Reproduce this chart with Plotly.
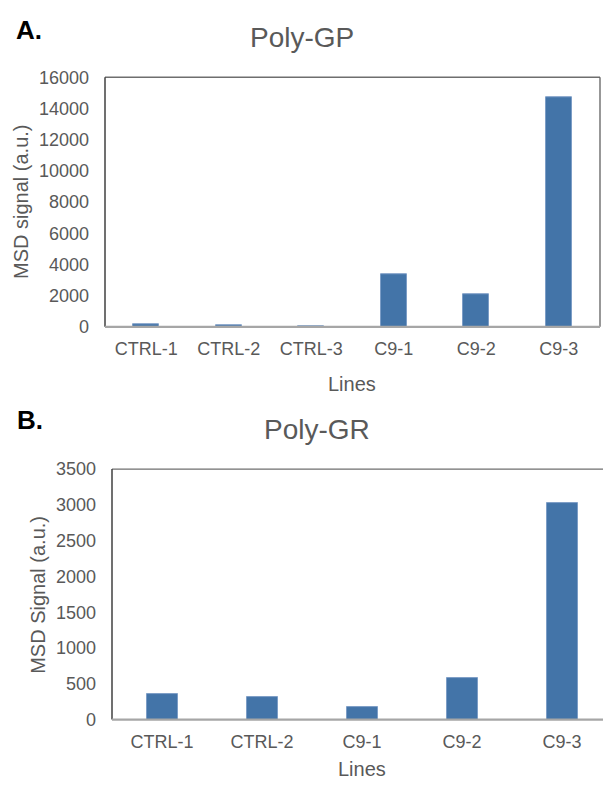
import plotly.graph_objects as go

# ---- data ----
gp_categories = ["CTRL-1", "CTRL-2", "CTRL-3", "C9-1", "C9-2", "C9-3"]
gp_values = [150, 80, 10, 3350, 2100, 14730]
gp_ticks = [0, 2000, 4000, 6000, 8000, 10000, 12000, 14000, 16000]

gr_categories = ["CTRL-1", "CTRL-2", "C9-1", "C9-2", "C9-3"]
gr_values = [352, 312, 177, 585, 3030]
gr_ticks = [0, 500, 1000, 1500, 2000, 2500, 3000, 3500]

W, H = 603, 791
BAR = "#4374A8"
EDGE = "#7C9DC6"
TXT = "#595959"
FONT = "Liberation Sans, Arial, sans-serif"


def px(x):
    return x / W


def py(y):
    return 1 - y / H


fig = go.Figure()
fig.add_trace(go.Bar(x=gp_categories, y=gp_values, xaxis="x", yaxis="y",
                     marker=dict(color=BAR, line=dict(color=EDGE, width=1)),
                     width=0.31, showlegend=False))
fig.add_trace(go.Bar(x=gr_categories, y=gr_values, xaxis="x2", yaxis="y2",
                     marker=dict(color=BAR, line=dict(color=EDGE, width=1)),
                     width=0.31, showlegend=False))

tickfont = dict(family=FONT, size=18, color=TXT)

fig.update_layout(
    width=W, height=H,
    margin=dict(l=0, r=0, t=0, b=0),
    paper_bgcolor="white", plot_bgcolor="white",
    xaxis=dict(domain=[px(105), px(600)], anchor="y", type="category",
               range=[-0.5, 5.5], showgrid=False, showline=False, ticks="",
               tickfont=tickfont, ticklabelstandoff=9, fixedrange=True),
    yaxis=dict(domain=[py(325), py(69)], anchor="x", range=[0, 16000],
               tickvals=gp_ticks, tickformat="d", showgrid=False, zeroline=False,
               showline=False, ticks="", tickfont=tickfont, ticklabelstandoff=15),
    xaxis2=dict(domain=[px(112), 1], anchor="y2", type="category",
                range=[-0.5, 4.41], showgrid=False, showline=False, ticks="",
                tickfont=tickfont, ticklabelstandoff=9),
    yaxis2=dict(domain=[py(728), py(471)], anchor="x2", range=[0, 3500],
                tickvals=gr_ticks, tickformat="d", showgrid=False, zeroline=False,
                showline=False, ticks="", tickfont=tickfont, ticklabelstandoff=15),
    bargap=0,
)

shapes = []
for xa, ya, right in (("x", "y", True), ("x2", "y2", False)):
    xr, yr = xa + " domain", ya + " domain"
    # top border
    shapes.append(dict(type="line", xref=xr, yref=yr, x0=0, x1=1, y0=1, y1=1,
                       line=dict(color="#6E6E6E", width=1.3)))
    if right:
        shapes.append(dict(type="line", xref=xr, yref=yr, x0=1, x1=1, y0=0, y1=1,
                           line=dict(color="#606060", width=1.3)))
    # left axis
    shapes.append(dict(type="line", xref=xr, yref=yr, x0=0, x1=0, y0=0, y1=1,
                       line=dict(color="#404040", width=1.5)))
    # bottom axis
    shapes.append(dict(type="line", xref=xr, yref=yr, x0=0, x1=1, y0=0, y1=0,
                       line=dict(color="#A6A6A6", width=2.2)))
fig.update_layout(shapes=shapes)

ann = []
ann.append(dict(text="<b>A.</b>", x=px(14), y=py(21), xanchor="left", yanchor="middle",
                font=dict(family=FONT, size=26, color="black")))
ann.append(dict(text="<b>B.</b>", x=px(15), y=py(421), xanchor="left", yanchor="middle",
                font=dict(family=FONT, size=26, color="black")))
ann.append(dict(text="Poly-GP", x=px(302), y=py(28), xanchor="center", yanchor="middle",
                font=dict(family=FONT, size=28, color=TXT)))
ann.append(dict(text="Poly-GR", x=px(317), y=py(430), xanchor="center", yanchor="middle",
                font=dict(family=FONT, size=28, color=TXT)))
ann.append(dict(text="MSD signal (a.u.)", x=px(21), y=py(197), textangle=-90,
                xanchor="center", yanchor="middle",
                font=dict(family=FONT, size=20, color=TXT)))
ann.append(dict(text="MSD Signal (a.u.)", x=px(38), y=py(600), textangle=-90,
                xanchor="center", yanchor="middle",
                font=dict(family=FONT, size=20, color=TXT)))
ann.append(dict(text="Lines", x=px(352), y=py(384), xanchor="center", yanchor="middle",
                font=dict(family=FONT, size=20, color=TXT)))
ann.append(dict(text="Lines", x=px(362), y=py(779), xanchor="center", yanchor="middle",
                font=dict(family=FONT, size=20, color=TXT)))
for a in ann:
    a.update(xref="paper", yref="paper", showarrow=False)
fig.update_layout(annotations=ann)

fig.write_html("out.html")
